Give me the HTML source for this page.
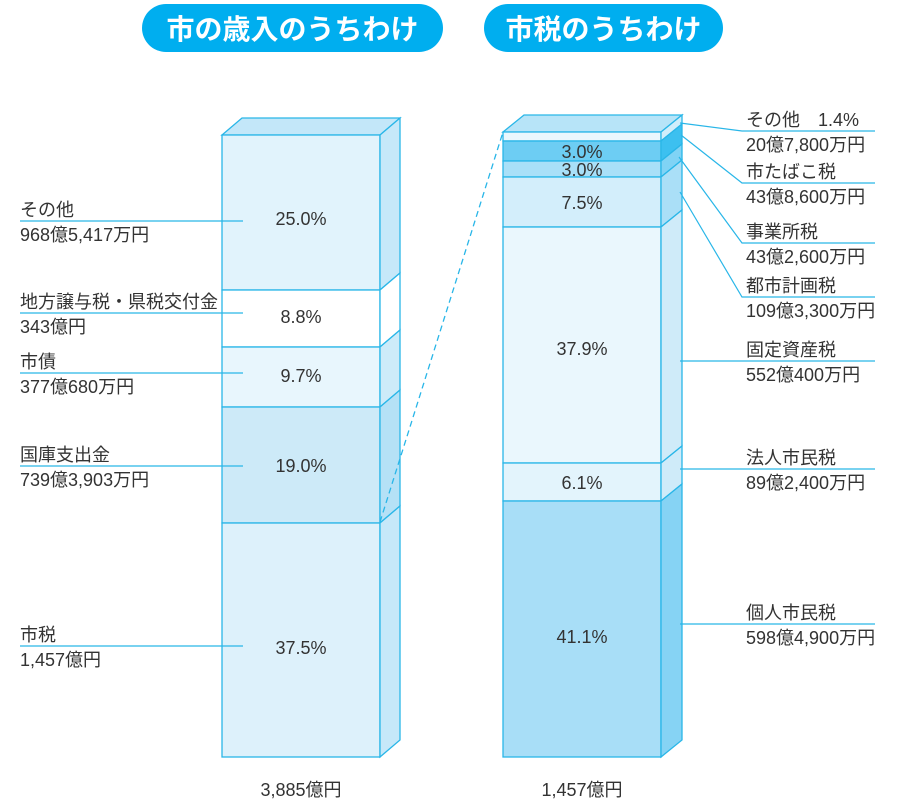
<!DOCTYPE html>
<html><head><meta charset="utf-8"><style>
body{margin:0;background:#fff;width:901px;height:806px;overflow:hidden}
text{font-family:"Liberation Sans","Noto Sans CJK JP",sans-serif;fill:#333;font-size:18px}
</style></head><body>
<svg width="901" height="806" viewBox="0 0 901 806" xmlns="http://www.w3.org/2000/svg">
<rect x="142" y="4" width="301" height="48" rx="24" fill="#00aeef"/>
<text x="292.5" y="39" text-anchor="middle" style="fill:#fff;font-size:28px;font-weight:bold">市の歳入のうちわけ</text>
<rect x="484" y="4" width="239" height="48" rx="24" fill="#00aeef"/>
<text x="603.5" y="39" text-anchor="middle" style="fill:#fff;font-size:28px;font-weight:bold">市税のうちわけ</text>
<g stroke="#29b6e8" stroke-width="1.3">
<polygon points="222,135 242,118 400,118 380,135" fill="#c3e7f9"/>
<rect x="222" y="135" width="158" height="155" fill="#e1f3fc"/>
<polygon points="380,135 400,118 400,273 380,290" fill="#c6e8f9"/>
<rect x="222" y="290" width="158" height="57" fill="#fff"/>
<polygon points="380,290 400,273 400,330 380,347" fill="#fff"/>
<rect x="222" y="347" width="158" height="60" fill="#e8f6fd"/>
<polygon points="380,347 400,330 400,390 380,407" fill="#cdebf9"/>
<rect x="222" y="407" width="158" height="116" fill="#cdeaf8"/>
<polygon points="380,407 400,390 400,506 380,523" fill="#b5e1f6"/>
<rect x="222" y="523" width="158" height="234" fill="#ddf1fb"/>
<polygon points="380,523 400,506 400,740 380,757" fill="#c6e8f9"/>
<polygon points="503,132 524,115 682,115 661,132" fill="#b7e4f8"/>
<rect x="503" y="132" width="158" height="9" fill="#eaf7fd"/>
<polygon points="661,132 682,115 682,124 661,141" fill="#d0eefb"/>
<rect x="503" y="141" width="158" height="20" fill="#6dcdf3"/>
<polygon points="661,141 682,124 682,144 661,161" fill="#3cc0f0"/>
<rect x="503" y="161" width="158" height="16" fill="#a9e0f8"/>
<polygon points="661,161 682,144 682,160 661,177" fill="#80d3f5"/>
<rect x="503" y="177" width="158" height="50" fill="#d3eefb"/>
<polygon points="661,177 682,160 682,210 661,227" fill="#aadff7"/>
<rect x="503" y="227" width="158" height="236" fill="#eaf7fd"/>
<polygon points="661,227 682,210 682,446 661,463" fill="#cfebf9"/>
<rect x="503" y="463" width="158" height="38" fill="#e3f4fc"/>
<polygon points="661,463 682,446 682,484 661,501" fill="#cfebf9"/>
<rect x="503" y="501" width="158" height="256" fill="#a8def7"/>
<polygon points="661,501 682,484 682,740 661,757" fill="#86d3f4"/>
</g>
<line x1="380" y1="522" x2="503" y2="132" stroke="#29b6e8" stroke-width="1.3" stroke-dasharray="6,4"/>
<g stroke="#29b6e8" stroke-width="1.2" fill="none">
<line x1="20" y1="221" x2="243" y2="221"/>
<line x1="20" y1="313" x2="243" y2="313"/>
<line x1="20" y1="373" x2="243" y2="373"/>
<line x1="20" y1="466" x2="243" y2="466"/>
<line x1="20" y1="646" x2="243" y2="646"/>
<polyline points="680,123 742,131 875,131"/>
<polyline points="681,135 742,183 875,183"/>
<polyline points="679,157 742,243 875,243"/>
<polyline points="680,192 742,297 875,297"/>
<line x1="680" y1="361" x2="875" y2="361"/>
<line x1="680" y1="469" x2="875" y2="469"/>
<line x1="680" y1="624" x2="875" y2="624"/>
</g>
<g text-anchor="middle">
<text x="301" y="225">25.0%</text>
<text x="301" y="323">8.8%</text>
<text x="301" y="382">9.7%</text>
<text x="301" y="472">19.0%</text>
<text x="301" y="654">37.5%</text>
<text x="582" y="158">3.0%</text>
<text x="582" y="176">3.0%</text>
<text x="582" y="209">7.5%</text>
<text x="582" y="355">37.9%</text>
<text x="582" y="489">6.1%</text>
<text x="582" y="643">41.1%</text>
<text x="301" y="796">3,885億円</text>
<text x="582" y="796">1,457億円</text>
</g>
<g>
<text x="20" y="216">その他</text><text x="20" y="241">968億5,417万円</text>
<text x="20" y="308">地方譲与税・県税交付金</text><text x="20" y="333">343億円</text>
<text x="20" y="368">市債</text><text x="20" y="393">377億680万円</text>
<text x="20" y="461">国庫支出金</text><text x="20" y="486">739億3,903万円</text>
<text x="20" y="641">市税</text><text x="20" y="666">1,457億円</text>
<text x="746" y="126">その他　1.4%</text><text x="746" y="151">20億7,800万円</text>
<text x="746" y="178">市たばこ税</text><text x="746" y="203">43億8,600万円</text>
<text x="746" y="238">事業所税</text><text x="746" y="263">43億2,600万円</text>
<text x="746" y="292">都市計画税</text><text x="746" y="317">109億3,300万円</text>
<text x="746" y="356">固定資産税</text><text x="746" y="381">552億400万円</text>
<text x="746" y="464">法人市民税</text><text x="746" y="489">89億2,400万円</text>
<text x="746" y="619">個人市民税</text><text x="746" y="644">598億4,900万円</text>
</g>
</svg>
</body></html>
